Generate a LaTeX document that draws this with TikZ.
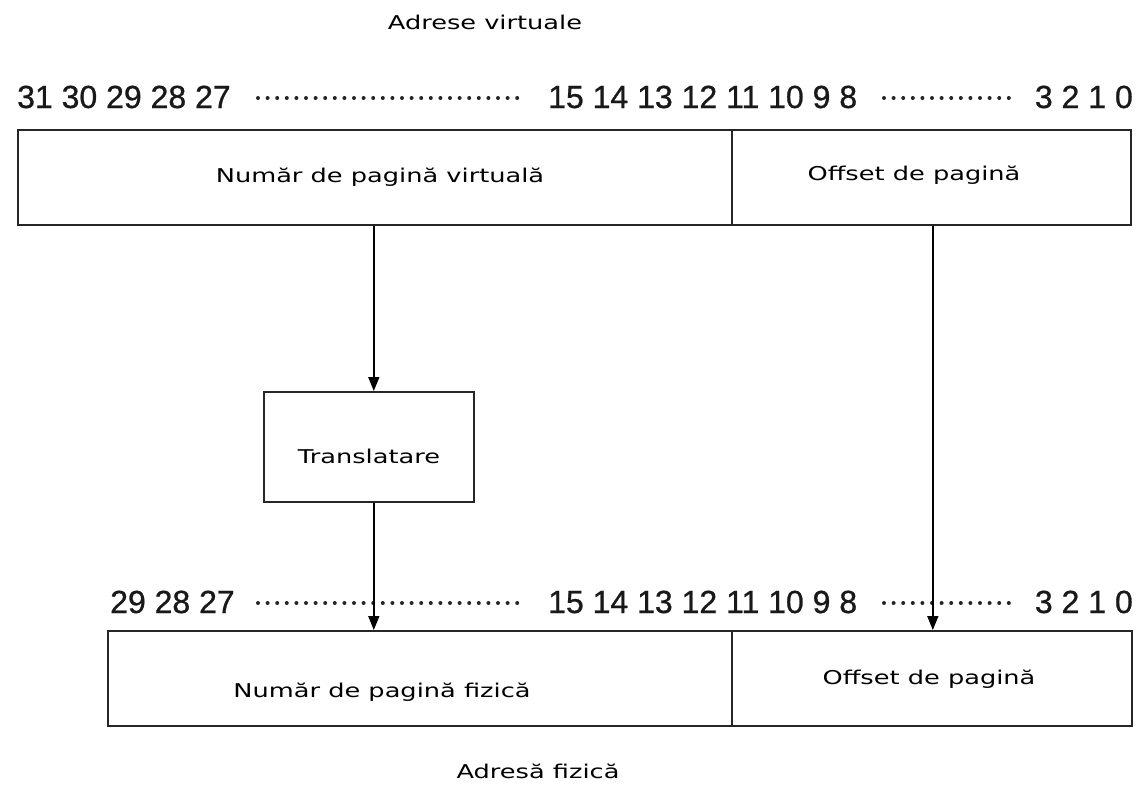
\documentclass[tikz,border=0pt]{standalone}
\usepackage{fontspec}
\setmainfont{Liberation Sans}
\newfontfamily\bitfont[FakeBold=0.8]{Liberation Sans}
\newfontfamily\lblfont[FakeStretch=1.35]{DejaVu Sans}
\usetikzlibrary{arrows.meta}
\begin{document}
\begin{tikzpicture}[x=1pt,y=-1pt,
  field/.style={draw=black!85, line width=1.6pt, minimum height=95pt,
                inner sep=0pt, anchor=north west},
  lbl/.style={font=\lblfont\fontsize{19}{22}\selectfont, text=black,
              inner sep=0pt, anchor=base},
  bits/.style={font=\bitfont\fontsize{32}{36}\selectfont, text=black!90,
               inner sep=0pt},
  dotrow/.style={line width=4pt, line cap=round, black!85,
                 dash pattern=on 0pt off 9.6pt},
  arr/.style={line width=1.6pt, -{Triangle[width=11pt,length=14pt]}}]
\useasboundingbox (0,0) rectangle (1139,787);

% captions
\node[lbl] (vcap) at (485,29) {Adrese virtuale};
\node[lbl] (pcap) at (538,778) {Adresă fizică};

% virtual address: bit numbers
\node[bits, anchor=base west] (vhi)  at (17,108)   {31 30 29 28 27};
\node[bits, anchor=base west] (vmid) at (548,108)  {15 14 13 12 11 10 9 8};
\node[bits, anchor=base east] (vlo)  at (1133,108) {3 2 1 0};
\draw[dotrow] (258,98) -- (525,98);
\draw[dotrow] (884,98) -- (1012,98);

% virtual address fields
\node[field, minimum width=714pt] (vpn)  at (17,129)  {};
\node[field, minimum width=399pt] (voff) at (731,129) {};
\node[lbl] (vpnt)  at (380,182) {Număr de pagină virtuală};
\node[lbl] (vofft) at (914,180) {Offset de pagină};

% translation unit
\node[field, minimum width=210pt, minimum height=110pt] (trans) at (263,391) {};
\node[lbl] (transt) at (369,463) {Translatare};

% physical address: bit numbers
\node[bits, anchor=base west] (phi)  at (110,613)  {29 28 27};
\node[bits, anchor=base west] (pmid) at (548,613)  {15 14 13 12 11 10 9 8};
\node[bits, anchor=base east] (plo)  at (1133,613) {3 2 1 0};
\draw[dotrow] (258,603) -- (525,603);
\draw[dotrow] (884,603) -- (1012,603);

% physical address fields
\node[field, minimum width=624pt] (pfn)  at (107,630) {};
\node[field, minimum width=400pt] (poff) at (731,630) {};
\node[lbl] (pfnt)  at (382,697) {Număr de pagină fizică};
\node[lbl] (pofft) at (929,684) {Offset de pagină};

% connectors
\draw[arr] ([xshift=5pt]trans.north |- vpn.south) -- ([xshift=5pt]trans.north);
\draw[arr] ([xshift=5pt]trans.south) -- ([xshift=5pt]trans.south |- pfn.north);
\draw[arr] ([xshift=1.5pt]voff.south) -- ([xshift=1.5pt]voff.south |- poff.north);
\end{tikzpicture}
\end{document}
